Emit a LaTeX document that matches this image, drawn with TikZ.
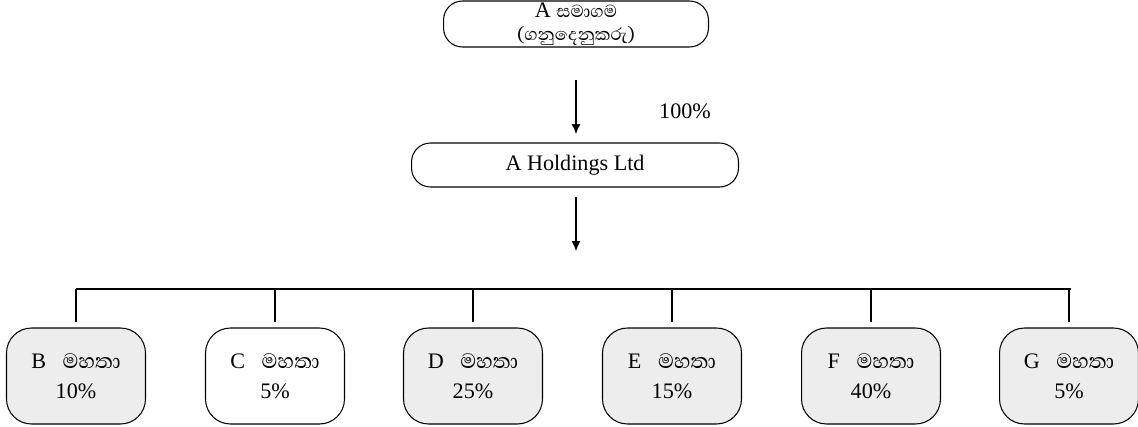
\documentclass[tikz,border=0pt]{standalone}
\usepackage{fontspec}
\setmainfont{Liberation Serif}
\newfontfamily\sinfont[Script=Sinhala, Scale=1.2]{Abhaya Libre}
\usepackage{tikz}
\usetikzlibrary{positioning, arrows.meta}
\tikzset{
    holder/.style={draw, rounded corners=0.38cm, line width=0.6pt, align=center, font=\fontsize{12.6}{14}\selectfont},
    owner/.style={draw, rounded corners=0.5cm, line width=0.6pt, fill=gray!14, align=center,
        minimum width=2.78cm, minimum height=1.92cm, font=\fontsize{12.6}{15}\selectfont},
    link/.style={line width=0.6pt},
    feed/.style={line width=0.6pt, -{Latex[length=0.2cm, width=0.18cm]}},
}
\newcommand{\smallsin}[1]{{\sinfont\fontsize{10.5}{12}\selectfont #1}}
\begin{document}
\begin{tikzpicture}[x=0.02cm, y=-0.02cm]
\useasboundingbox (0,0) rectangle (1138,426);
\node[holder, minimum width=5.3cm, minimum height=0.92cm] (parent) at (576,24) {};
\node[font=\fontsize{12.6}{13}\selectfont, align=center] (parenttext) at (576,24) {A \smallsin{සමාගම}\\\smallsin{(ගනුදෙනුකරු)}};
\node[holder, minimum width=6.54cm, minimum height=0.88cm] (hold) at (575,165) {A Holdings Ltd};
\node[font=\fontsize{12.6}{14}\selectfont] (share) at (685,111) {100\%};

\coordinate (upa) at (576,80);
\coordinate (upb) at (576,134);
\coordinate (downa) at (576,197);
\coordinate (downb) at (576,251);
\draw[feed] (upa) -- (upb);
\draw[feed] (downa) -- (downb);

% branch line
\coordinate (bl) at (76,289);
\coordinate (br) at (1071,289);
\draw[link] (bl) -- (br);

\node[owner] (b) at (76,376) {B\enspace\ {\sinfont මහතා}\\[2pt]10\%};
\node[owner, fill=white] (c) at (275,376) {C\enspace\ {\sinfont මහතා}\\[2pt]5\%};
\node[owner] (d) at (473,376) {D\enspace\ {\sinfont මහතා}\\[2pt]25\%};
\node[owner] (e) at (672,376) {E\enspace\ {\sinfont මහතා}\\[2pt]15\%};
\node[owner] (f) at (871,376) {F\enspace\ {\sinfont මහතා}\\[2pt]40\%};
\node[owner] (g) at (1069,376) {G\enspace\ {\sinfont මහතා}\\[2pt]5\%};

\draw[link] (b.north |- bl) -- ++(0,33);
\draw[link] (c.north |- bl) -- ++(0,33);
\draw[link] (d.north |- bl) -- ++(0,33);
\draw[link] (e.north |- bl) -- ++(0,33);
\draw[link] (f.north |- bl) -- ++(0,33);
\draw[link] (g.north |- bl) -- ++(0,33);
\end{tikzpicture}
\end{document}
